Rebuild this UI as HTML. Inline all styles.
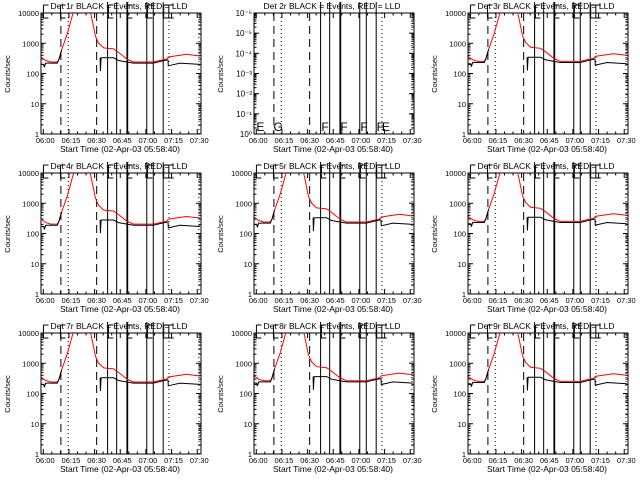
<!DOCTYPE html>
<html><head><meta charset="utf-8"><style>
html,body{margin:0;padding:0;background:#fff}
svg{display:block}
text{font-family:"Liberation Sans",sans-serif;fill:#000}
</style></head><body>
<svg id="c" width="640" height="480" xmlns="http://www.w3.org/2000/svg"></svg>
<script>
// time in minutes after 06:00
const redTimes = [-1.3,1.4,4.4,8.2,9.2,10.7,14,18.9,26.6,30.5,32.4,35.3,41.1,44.0,48.9,52.7,64.3,68.2,72.1,73.1,79.9,83.7,91.5];
const redValues = [350,270,240,240,300,600,2000,20000,20000,1700,1000,700,650,500,300,240,240,270,300,350,400,430,380];
const blackTimes = [-1.3,0.3,0.6,1.4,8.2,9.2,10.7,11.0,33.2,33.4,33.8,34.5,41.1,44.0,48.9,52.7,64.3,68.2,72.1,72.9,73.1,79.9,91.5];
const blackValues = [200,200,160,220,220,300,600,null,330,120,330,330,330,270,240,220,220,250,280,280,180,220,200];
const panelScale = [1,0,1.05,0.85,1.0,1.05,1.0,1.1,1.05];
const xTickLabels = ["06:00","06:15","06:30","06:45","07:00","07:15","07:30"];
const xTickMinutes = [0,15,30,45,60,75,90];
const dashedLines = [10.3,31.2];
const dottedLines = [14.6,73.5,91];
const solidLines = [37.6,42.9,48.9,60.5,64.3,70.1];
const thickLines = [49.2];
const letterTimes = [-0.5,9.5,37.5,48.6,60.3,69.8,72.8];
const letterLabels = ["E","G","F","F","F","F","E"];
const yTicksMain = ["1","10","100","1000","10000"];
const yTicksDet2 = ["10\u2070","10\u207B\u00B9","10\u207B\u00B2","10\u207B\u00B3","10\u207B\u2074","10\u207B\u2075","10\u207B\u2076"];

const svg = document.getElementById('c');
const NS = 'http://www.w3.org/2000/svg';
function mk(tag, attrs, parent){const e=document.createElementNS(NS,tag);for(const k in attrs)e.setAttribute(k,attrs[k]);parent.appendChild(e);return e;}
const T0=-1.33, T1=92.2;
for(let p=0;p<9;p++){
  const ox=Math.round((p%3)*213.3), oy=(Math.floor(p/3))*160;
  const L=ox+41,R=ox+201,Tp=oy+13,B=oy+134;
  const g=mk('g',{},svg);
  
  
  const xs=t=>L+(t-T0)/(T1-T0)*(R-L);
  const ys=v=>B-Math.log10(v)/4*(B-Tp);
  const title=mk('text',{x:ox+119,y:oy+9,'font-size':'8.5','text-anchor':'middle'},g);
  title.textContent='Det '+(p+1)+'r BLACK = Events, RED = LLD';
  
  
  const box=mk('rect',{x:L,y:Tp,width:R-L,height:B-Tp,fill:'none',stroke:'#000','stroke-width':1},g);
  
  
  for(let m=0;m<=90;m+=5){const x=xs(m),len=m%15==0?5:2.5;
    mk('line',{x1:x,y1:B,x2:x,y2:B-len,stroke:'#000'},g);mk('line',{x1:x,y1:Tp,x2:x,y2:Tp+len,stroke:'#000'},g);}
  xTickMinutes.forEach((m,i)=>{const t=mk('text',{x:xs(m)+2,y:B+9,'font-size':'7.5','text-anchor':'middle'},g);t.textContent=xTickLabels[i];
    
    });
  const xt=mk('text',{x:ox+120,y:oy+152,'font-size':'8.5','text-anchor':'middle'},g);xt.textContent='Start Time (02-Apr-03 05:58:40)';
  
  
  const yt=mk('text',{x:0,y:0,'font-size':'7.5','text-anchor':'middle',transform:'translate('+(ox+10)+','+(oy+74)+') rotate(-90)'},g);yt.textContent='Counts/sec';
  
  
  if(p===1){
    for(let d=0;d<=6;d++){const y=B-d/6*(B-Tp);
      mk('line',{x1:L,y1:y,x2:L+5,y2:y,stroke:'#000'},g);mk('line',{x1:R,y1:y,x2:R-5,y2:y,stroke:'#000'},g);
      if(d<6)for(let k=2;k<10;k++){const yy=y-Math.log10(k)/6*(B-Tp);mk('line',{x1:L,y1:yy,x2:L+2.5,y2:yy,stroke:'#000'},g);mk('line',{x1:R,y1:yy,x2:R-2.5,y2:yy,stroke:'#000'},g);}
      const t=mk('text',{x:L-2,y:y+3,'font-size':'8','text-anchor':'end'},g);t.textContent=yTicksDet2[d];
      
      }
  } else {
    for(let d=0;d<=4;d++){const y=ys(Math.pow(10,d));
      mk('line',{x1:L,y1:y,x2:L+5,y2:y,stroke:'#000'},g);mk('line',{x1:R,y1:y,x2:R-5,y2:y,stroke:'#000'},g);
      if(d<4)for(let k=2;k<10;k++){const yy=ys(k*Math.pow(10,d));mk('line',{x1:L,y1:yy,x2:L+2.5,y2:yy,stroke:'#000'},g);mk('line',{x1:R,y1:yy,x2:R-2.5,y2:yy,stroke:'#000'},g);}
      const t=mk('text',{x:L-2,y:y+3,'font-size':'7.5','text-anchor':'end'},g);t.textContent=yTicksMain[d];
      
      }
  }
  dashedLines.forEach(t=>{mk('line',{x1:xs(t),y1:Tp,x2:xs(t),y2:B,stroke:'#000','stroke-dasharray':'8,5'},g);});
  dottedLines.forEach(t=>{mk('line',{x1:xs(t),y1:Tp,x2:xs(t),y2:B,stroke:'#000','stroke-dasharray':'1,3'},g);});
  solidLines.forEach(t=>{mk('line',{x1:xs(t),y1:oy+2,x2:xs(t),y2:B,stroke:'#000','stroke-width':1},g);});
  thickLines.forEach(t=>{mk('line',{x1:xs(t),y1:oy+2,x2:xs(t),y2:B,stroke:'#000','stroke-width':1.5},g);});
  if(p===1){
    letterTimes.forEach((t,i)=>{const lt=mk('text',{x:xs(t)+1,y:B-3,'font-size':'12'},g);lt.textContent=letterLabels[i];
      
      });
  } else {
    letterTimes.forEach((t,i)=>{const x=xs(t)+1;mk('path',{d:'M'+x+','+(Tp+1)+'V'+(Tp+5)+'H'+(x+5)+' M'+x+','+(oy+5)+'V'+(Tp)+' M'+x+','+(oy+5)+'H'+(x+5),fill:'none',stroke:'#000','stroke-width':1},g);});
    const s=panelScale[p];
    const clipId='clip'+p;const cp=mk('clipPath',{id:clipId},g);mk('rect',{x:L,y:Tp,width:R-L,height:B-Tp},cp);
    let d='';redTimes.forEach((t,i)=>{d+=(i?'L':'M')+xs(t).toFixed(1)+','+ys(redValues[i]*s).toFixed(1);});
    const rl=mk('path',{d:d,fill:'none',stroke:'#f00','stroke-width':1,'clip-path':'url(#'+clipId+')'},g);
    
    
    let db='',pen=false;blackTimes.forEach((t,i)=>{const v=blackValues[i];if(v===null){pen=false;return;}db+=(pen?'L':'M')+xs(t).toFixed(1)+','+ys(v*s).toFixed(1);pen=true;});
    const bl=mk('path',{d:db,fill:'none',stroke:'#000','stroke-width':1,'clip-path':'url(#'+clipId+')'},g);
    
    
  }
}
</script>
</body></html>
